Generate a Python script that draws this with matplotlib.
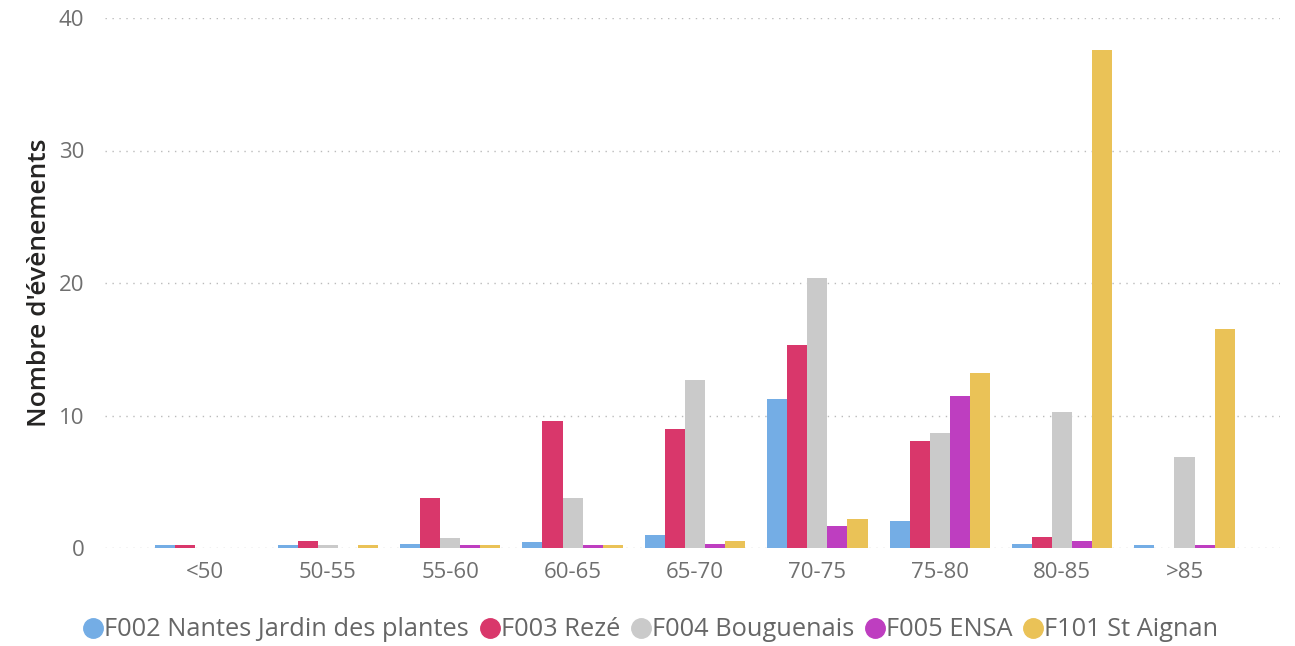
import matplotlib.pyplot as plt
import numpy as np

plt.rcParams['font.family'] = ['Open Sans', 'DejaVu Sans']

categories = ['<50', '50-55', '55-60', '60-65', '65-70', '70-75', '75-80', '80-85', '>85']
series = ['F002 Nantes Jardin des plantes', 'F003 Rezé', 'F004 Bouguenais', 'F005 ENSA', 'F101 St Aignan']
f002 = [0.2, 0.2, 0.3, 0.45, 1.0, 11.25, 2.05, 0.3, 0.2]
f003 = [0.2, 0.5, 3.8, 9.6, 9.0, 15.3, 8.1, 0.85, 0.0]
f004 = [0.0, 0.2, 0.75, 3.8, 12.7, 20.4, 8.7, 10.3, 6.9]
f005 = [0.0, 0.0, 0.2, 0.2, 0.3, 1.65, 11.5, 0.5, 0.2]
f101 = [0.0, 0.2, 0.2, 0.2, 0.5, 2.2, 13.2, 37.6, 16.5]
colors = ['#74ADE5', '#D9376B', '#CACACA', '#BE3EC0', '#EAC257']

fig = plt.figure(figsize=(12.95, 6.46), dpi=100)
ax = fig.add_axes([105/1295, 98/646, 1175/1295, 530/646])

x = np.arange(len(categories))
w = 0.164
for i, (vals, name) in enumerate(zip([f002, f003, f004, f005, f101], series)):
    ax.bar(x + (i - 2) * w, vals, width=w, color=colors[i], label=name)

ax.set_xlim(-0.82, 8.78)
ax.set_ylim(0, 40)
ax.set_yticks([0, 10, 20, 30, 40])
ax.set_xticks(x)
ax.set_xticklabels(categories)
ax.tick_params(axis='both', length=0, labelsize=16, labelcolor='#6F6F6F')
ax.tick_params(axis='y', pad=15)
ax.tick_params(axis='x', pad=10)
ax.yaxis.grid(True, linestyle=(0, (1, 4)), color='#BBBBBB', linewidth=1)
ax.set_axisbelow(True)
for s in ax.spines.values():
    s.set_visible(False)

ax.set_ylabel("Nombre d'évènements", fontsize=19, color='#252423', fontweight='semibold', labelpad=5)

handles = [plt.Line2D([], [], marker='o', linestyle='', markersize=14, color=c) for c in colors]
fig.legend(handles, series, loc='center', bbox_to_anchor=(0.502, 1 - 630/646), ncol=5, frameon=False,
           fontsize=18.3, labelcolor='#666666', handletextpad=0.0, columnspacing=0.35, handlelength=0.9)

fig.savefig('out.png', dpi=100)
